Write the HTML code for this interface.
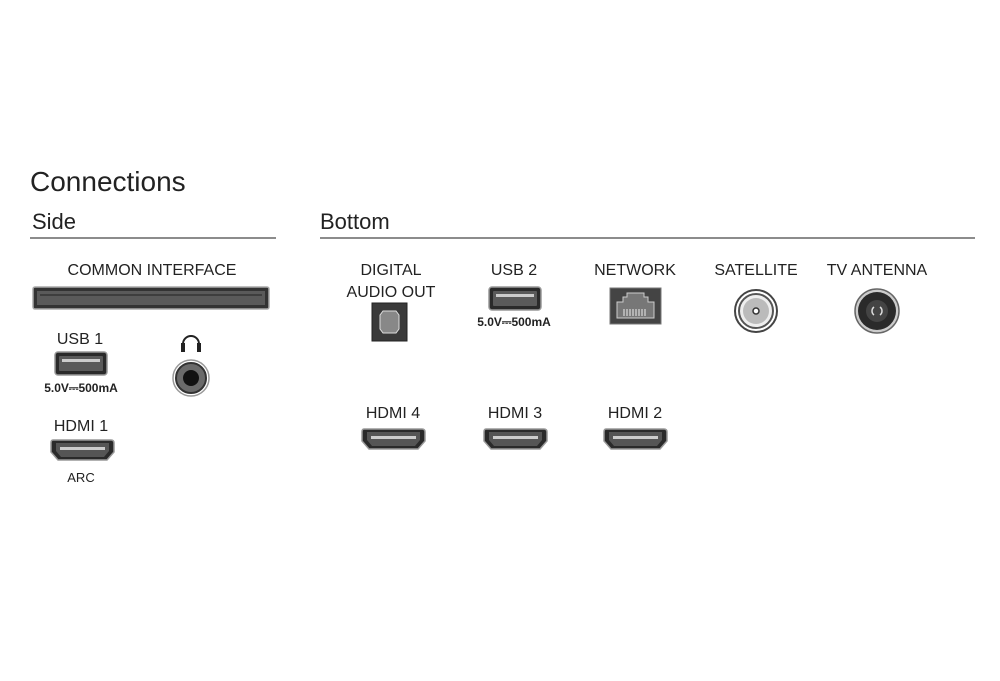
<!DOCTYPE html>
<html><head><meta charset="utf-8"><style>
html,body{margin:0;padding:0;background:#fff;}
svg{display:block;}
text{font-family:"Liberation Sans",sans-serif;fill:#222;}
</style></head><body>
<svg width="1000" height="681" viewBox="0 0 1000 681" xmlns="http://www.w3.org/2000/svg">
<defs>
<g id="hdmi">
 <path d="M2,2 H60 Q63,2 63,5 V14 L56,22 H7 L0,14 V5 Q0,2 2,2 Z" fill="#2a2a2a" stroke="#999" stroke-width="1.5"/>
 <path d="M5,5 H58 V13 L53,19 H10 L5,13 Z" fill="#555"/>
 <rect x="9" y="9" width="45" height="3" fill="#ccc"/>
</g>
<g id="usb">
 <rect x="0" y="0" width="52" height="23" rx="3" fill="#2a2a2a" stroke="#999" stroke-width="1.5"/>
 <rect x="4" y="4" width="44" height="15" rx="1" fill="#5a5a5a"/>
 <rect x="7" y="7" width="38" height="3" fill="#ccc"/>
</g>
</defs>

<text x="30" y="191" font-size="28">Connections</text>
<text x="32" y="229" font-size="22">Side</text>
<line x1="30" y1="238" x2="276" y2="238" stroke="#666" stroke-width="1.5"/>
<text x="320" y="229" font-size="22">Bottom</text>
<line x1="320" y1="238" x2="975" y2="238" stroke="#666" stroke-width="1.5"/>

<!-- Side -->
<text x="152" y="275" font-size="16" text-anchor="middle">COMMON INTERFACE</text>
<rect x="33" y="287" width="236" height="22" rx="2" fill="#333" stroke="#aaa" stroke-width="1.5"/>
<rect x="37" y="291" width="228" height="14" fill="#5a5a5a"/>
<line x1="40" y1="295" x2="262" y2="295" stroke="#222" stroke-width="1"/>

<text x="80" y="344" font-size="16" text-anchor="middle">USB 1</text>
<use href="#usb" x="55" y="352"/>
<text x="81" y="392" font-size="12" font-weight="bold" text-anchor="middle">5.0V⎓500mA</text>

<path d="M183,352 V344 A8,8 0 0 1 199,344 V352" fill="none" stroke="#222" stroke-width="2"/>
<rect x="181" y="343" width="4" height="9" fill="#222"/>
<rect x="197" y="343" width="4" height="9" fill="#222"/>
<circle cx="191" cy="378" r="18" fill="#fff" stroke="#999" stroke-width="1.5"/>
<circle cx="191" cy="378" r="15" fill="#6a6a6a" stroke="#333" stroke-width="2"/>
<circle cx="191" cy="378" r="8" fill="#111"/>

<text x="81" y="431" font-size="16" text-anchor="middle">HDMI 1</text>
<use href="#hdmi" x="51" y="438"/>
<text x="81" y="482" font-size="13" text-anchor="middle">ARC</text>

<!-- Bottom -->
<text x="391" y="275" font-size="16" text-anchor="middle">DIGITAL</text>
<text x="391" y="297" font-size="16" text-anchor="middle">AUDIO OUT</text>
<rect x="372" y="303" width="35" height="38" fill="#3a3a3a" stroke="#222" stroke-width="1"/>
<path d="M383,311 H396 L399,315 V329 L396,333 H383 L380,329 V315 Z" fill="#888" stroke="#ddd" stroke-width="1"/>

<text x="514" y="275" font-size="16" text-anchor="middle">USB 2</text>
<use href="#usb" x="489" y="287"/>
<text x="514" y="326" font-size="12" font-weight="bold" text-anchor="middle">5.0V⎓500mA</text>

<text x="635" y="275" font-size="16" text-anchor="middle">NETWORK</text>
<rect x="610" y="288" width="51" height="36" fill="#444" stroke="#777" stroke-width="1"/>
<path d="M617,318 V302 H623 V297 H627 V293 H644 V297 H648 V302 H654 V318 Z" fill="#777" stroke="#ccc" stroke-width="1"/>
<g stroke="#eee" stroke-width="1"><line x1="624" y1="309" x2="624" y2="316"/><line x1="627" y1="309" x2="627" y2="316"/><line x1="630" y1="309" x2="630" y2="316"/><line x1="633" y1="309" x2="633" y2="316"/><line x1="636" y1="309" x2="636" y2="316"/><line x1="639" y1="309" x2="639" y2="316"/><line x1="642" y1="309" x2="642" y2="316"/><line x1="645" y1="309" x2="645" y2="316"/></g>

<text x="756" y="275" font-size="16" text-anchor="middle">SATELLITE</text>
<circle cx="756" cy="311" r="21" fill="#fff" stroke="#444" stroke-width="2"/>
<circle cx="756" cy="311" r="17" fill="#eee" stroke="#555" stroke-width="2"/>
<circle cx="756" cy="311" r="13" fill="#bbb"/>
<circle cx="756" cy="311" r="3" fill="#fff" stroke="#333" stroke-width="1.5"/>

<text x="877" y="275" font-size="16" text-anchor="middle">TV ANTENNA</text>
<circle cx="877" cy="311" r="22" fill="#ccc" stroke="#666" stroke-width="1.5"/>
<circle cx="877" cy="311" r="19" fill="#2a2a2a"/>
<circle cx="877" cy="311" r="11" fill="#444"/>
<path d="M874,307 A5,5 0 0 0 874,315 M880,307 A5,5 0 0 1 880,315" fill="none" stroke="#ddd" stroke-width="1.5"/>

<text x="393" y="418" font-size="16" text-anchor="middle">HDMI 4</text>
<use href="#hdmi" x="362" y="427"/>
<text x="515" y="418" font-size="16" text-anchor="middle">HDMI 3</text>
<use href="#hdmi" x="484" y="427"/>
<text x="635" y="418" font-size="16" text-anchor="middle">HDMI 2</text>
<use href="#hdmi" x="604" y="427"/>
</svg>
</body></html>
